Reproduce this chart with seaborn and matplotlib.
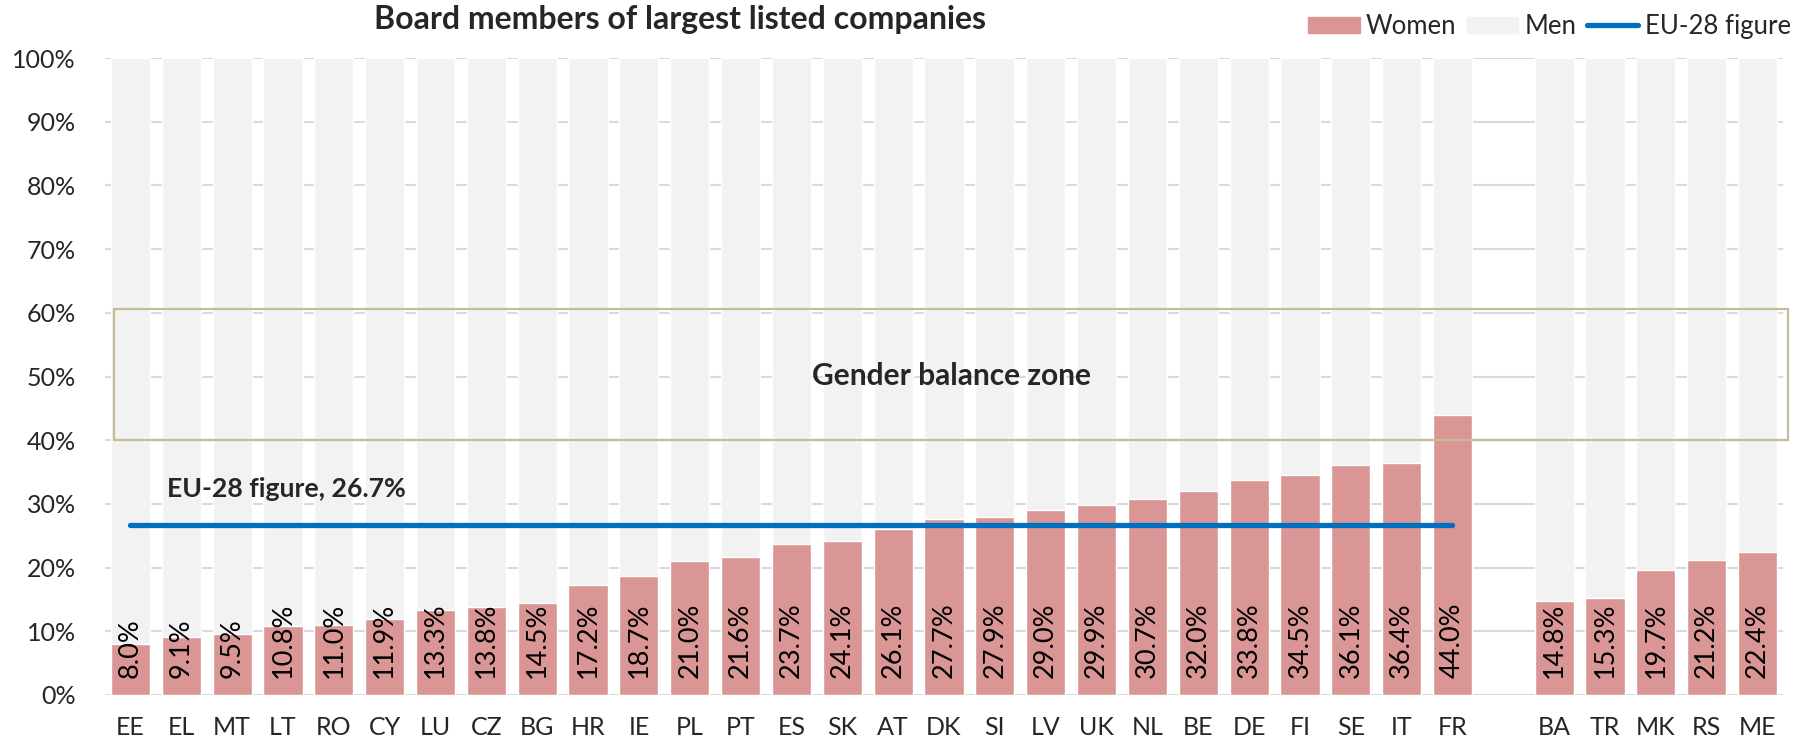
import matplotlib
matplotlib.use("Agg")
import matplotlib.pyplot as plt
import matplotlib.patches as mpatches
from matplotlib.lines import Line2D
import seaborn as sns
import pandas as pd
import numpy as np

eu_countries = ["EE", "EL", "MT", "LT", "RO", "CY", "LU", "CZ", "BG", "HR", "IE", "PL", "PT",
                "ES", "SK", "AT", "DK", "SI", "LV", "UK", "NL", "BE", "DE", "FI", "SE", "IT", "FR"]
eu_women = [8.0, 9.1, 9.5, 10.8, 11.0, 11.9, 13.3, 13.8, 14.5, 17.2, 18.7, 21.0, 21.6,
            23.7, 24.1, 26.1, 27.7, 27.9, 29.0, 29.9, 30.7, 32.0, 33.8, 34.5, 36.1, 36.4, 44.0]
other_countries = ["BA", "TR", "MK", "RS", "ME"]
other_women = [14.8, 15.3, 19.7, 21.2, 22.4]
eu28_value = 26.7
zone_low, zone_high = 40, 60

countries = eu_countries + other_countries
women = eu_women + other_women
df = pd.DataFrame({"country": countries, "Women": women})
df["Men"] = 100 - df["Women"]
df["Total"] = 100.0
order = eu_countries + [" "] + other_countries

sns.set_theme(style="white")
plt.rcParams["font.family"] = ["Lato", "DejaVu Sans"]

W, H = 1812, 745
fig = plt.figure(figsize=(W / 100, H / 100), dpi=100)
ax = fig.add_axes([105 / W, 1 - 695 / H, 1678 / W, 637 / H])

women_c = "#D99694"
men_c = "#F2F2F2"
line_c = "#0070C0"

sns.barplot(data=df, x="country", y="Total", order=order, color=men_c, width=0.77,
            saturation=1, ax=ax, zorder=2)
sns.barplot(data=df, x="country", y="Women", order=order, color=women_c, width=0.77,
            saturation=1, ax=ax, zorder=3)

ax.set_xlim(-0.5, len(order) - 0.5)
ax.set_ylim(0, 100)
ax.set_yticks(np.arange(0, 101, 10))
ax.set_yticklabels([f"{v}%" for v in range(0, 101, 10)], fontsize=18)
ax.tick_params(axis="x", labelsize=18, length=0, pad=15)
ax.tick_params(axis="y", length=0, pad=21)
ax.set_xlabel("")
ax.set_ylabel("")
ax.grid(axis="y", color="#D9D9D9", linewidth=1.5, zorder=0)
ax.set_axisbelow(True)
for s in ax.spines.values():
    s.set_visible(False)

# value labels
for i, c in enumerate(order):
    if c in countries:
        v = women[countries.index(c)]
        ax.text(i, 2.7, f"{v:.1f}%", rotation=90, ha="center", va="bottom",
                fontsize=19.5, color="black", zorder=5)

# EU-28 line
ax.plot([0, len(eu_countries) - 1], [eu28_value, eu28_value], color=line_c, lw=3.8,
        solid_capstyle="round", zorder=6)
ax.text(0.72, 31.1, f"EU-28 figure, {eu28_value}%", fontsize=19.2, fontweight="bold",
        va="baseline", ha="left", zorder=7)

# gender balance zone
rect = mpatches.Rectangle((-0.32, zone_low), 32.92, zone_high + 0.6 - zone_low, fill=False,
                          edgecolor="#C4BD97", linewidth=1.6, zorder=7, clip_on=False)
ax.add_patch(rect)
ax.text(16.14, 48.7, "Gender balance zone", fontsize=21.5, fontweight="bold",
        ha="center", va="baseline", zorder=7)

fig.text(680 / W, 1 - 29.5 / H, "Board members of largest listed companies",
         fontsize=23, fontweight="bold", ha="center", va="baseline")

handles = [mpatches.Patch(color=women_c, label="Women"),
           mpatches.Patch(color=men_c, label="Men"),
           Line2D([0], [0], color=line_c, lw=3.8, solid_capstyle="round", label="EU-28 figure")]
leg = fig.legend(handles=handles, loc="center right", bbox_to_anchor=(1791 / W, 1 - 26.5 / H),
                 ncol=3, frameon=False, fontsize=18.5, handlelength=2.0, handleheight=0.6,
                 handletextpad=0.25, columnspacing=0.4, borderaxespad=0, borderpad=0)

fig.savefig("out.png", dpi=100)
